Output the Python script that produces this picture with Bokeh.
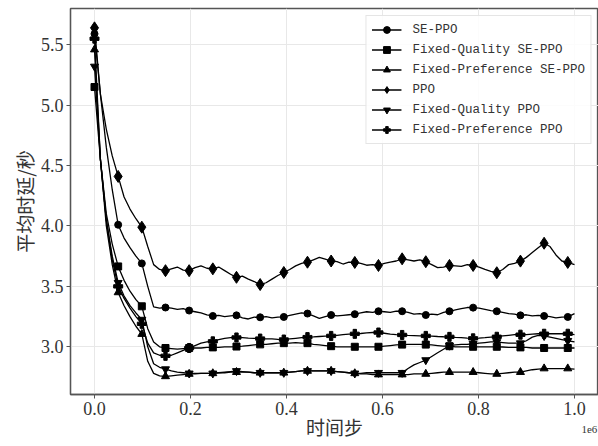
from bokeh.plotting import figure
from bokeh.models import Range1d, FixedTicker, LinearAxis
from bokeh.embed import file_html
from bokeh.resources import INLINE

# time step grid (every 12325 steps), last point at 1e6
STEP = 12325
steps = [i * STEP for i in range(81)] + [1000000]

se_ppo = [5.59, 5.09, 4.65, 4.30, 4.01, 3.90, 3.82, 3.75, 3.69, 3.50, 3.33, 3.32, 3.325,
          3.32, 3.31, 3.315, 3.30, 3.29, 3.28, 3.265, 3.255, 3.26, 3.25, 3.255, 3.26,
          3.24, 3.23, 3.245, 3.244, 3.25, 3.24, 3.245, 3.247, 3.26, 3.27, 3.28, 3.275,
          3.255, 3.235, 3.25, 3.263, 3.255, 3.26, 3.265, 3.27, 3.28, 3.29, 3.285, 3.294,
          3.29, 3.285, 3.295, 3.294, 3.285, 3.27, 3.275, 3.263, 3.27, 3.265, 3.285, 3.294,
          3.305, 3.315, 3.325, 3.324, 3.32, 3.31, 3.30, 3.294, 3.285, 3.275, 3.27, 3.26,
          3.265, 3.255, 3.26, 3.255, 3.25, 3.24, 3.245, 3.247, 3.275]

fq_se_ppo = [5.15, 4.55, 4.10, 3.85, 3.665, 3.55, 3.46, 3.39, 3.335, 3.15, 3.04, 3.00, 2.99,
             2.985, 2.98, 2.985, 2.99, 2.99, 2.99, 2.995, 2.995, 2.995, 3.0, 3.0, 3.002,
             3.005, 3.01, 3.015, 3.02, 3.02, 3.025, 3.03, 3.03, 3.03, 3.035, 3.03, 3.03,
             3.02, 3.015, 3.01, 3.005, 3.0, 3.0, 3.0, 3.0, 3.0, 3.0, 3.0, 3.0,
             3.005, 3.01, 3.015, 3.018, 3.02, 3.02, 3.02, 3.018, 3.015, 3.01, 3.005, 3.005,
             3.0, 3.0, 3.0, 3.0, 3.0, 3.0, 3.0, 3.0, 2.998, 2.995, 2.995, 2.995,
             2.995, 2.99, 2.99, 2.99, 2.99, 2.99, 2.99, 2.99, 2.99]

fp_se_ppo = [5.46, 4.55, 4.00, 3.68, 3.45, 3.34, 3.25, 3.17, 3.105, 2.88, 2.78, 2.76, 2.755,
             2.76, 2.765, 2.77, 2.775, 2.775, 2.78, 2.78, 2.78, 2.785, 2.785, 2.79, 2.79,
             2.79, 2.79, 2.785, 2.785, 2.785, 2.785, 2.785, 2.785, 2.79, 2.795, 2.80, 2.80,
             2.80, 2.80, 2.80, 2.80, 2.795, 2.79, 2.785, 2.78, 2.775, 2.775, 2.77, 2.77,
             2.77, 2.77, 2.77, 2.77, 2.77, 2.775, 2.775, 2.775, 2.78, 2.785, 2.79, 2.79,
             2.79, 2.79, 2.79, 2.79, 2.785, 2.78, 2.775, 2.775, 2.78, 2.785, 2.79, 2.79,
             2.80, 2.81, 2.815, 2.82, 2.82, 2.82, 2.82, 2.82, 2.815]

ppo = [5.64, 5.09, 4.80, 4.58, 4.41, 4.24, 4.14, 4.06, 3.99, 3.83, 3.68, 3.64, 3.63,
       3.645, 3.66, 3.635, 3.63, 3.655, 3.67, 3.65, 3.645, 3.66, 3.63, 3.60, 3.575,
       3.585, 3.56, 3.54, 3.515, 3.53, 3.56, 3.59, 3.615, 3.64, 3.67, 3.69, 3.70,
       3.72, 3.74, 3.725, 3.71, 3.705, 3.685, 3.70, 3.698, 3.69, 3.675, 3.68, 3.673,
       3.69, 3.70, 3.71, 3.728, 3.72, 3.71, 3.72, 3.704, 3.68, 3.655, 3.66, 3.673,
       3.67, 3.665, 3.68, 3.673, 3.66, 3.64, 3.625, 3.613, 3.64, 3.68, 3.69, 3.709,
       3.74, 3.78, 3.82, 3.857, 3.83, 3.76, 3.71, 3.698, 3.68]

fq_ppo = [5.32, 4.55, 4.05, 3.75, 3.53, 3.42, 3.34, 3.28, 3.225, 3.00, 2.86, 2.83, 2.815,
          2.80, 2.79, 2.785, 2.78, 2.78, 2.78, 2.78, 2.78, 2.785, 2.79, 2.795, 2.80,
          2.795, 2.79, 2.785, 2.785, 2.785, 2.785, 2.785, 2.785, 2.79, 2.795, 2.80, 2.80,
          2.80, 2.80, 2.80, 2.80, 2.795, 2.79, 2.785, 2.78, 2.78, 2.785, 2.785, 2.785,
          2.785, 2.785, 2.785, 2.785, 2.82, 2.85, 2.87, 2.89, 2.92, 2.95, 2.98, 3.01,
          3.015, 3.02, 3.02, 3.025, 3.03, 3.035, 3.04, 3.04, 3.035, 3.03, 3.03, 3.03,
          3.05, 3.08, 3.095, 3.09, 3.08, 3.07, 3.06, 3.05, 3.04]

fp_ppo = [5.55, 4.55, 4.05, 3.72, 3.50, 3.40, 3.32, 3.25, 3.19, 3.03, 2.95, 2.93, 2.925,
          2.93, 2.95, 2.97, 2.99, 3.01, 3.03, 3.04, 3.045, 3.06, 3.07, 3.075, 3.077,
          3.075, 3.072, 3.07, 3.068, 3.065, 3.065, 3.062, 3.06, 3.065, 3.07, 3.075, 3.08,
          3.082, 3.085, 3.088, 3.09, 3.095, 3.10, 3.105, 3.107, 3.11, 3.115, 3.118, 3.118,
          3.112, 3.105, 3.10, 3.098, 3.095, 3.093, 3.09, 3.09, 3.088, 3.085, 3.083, 3.082,
          3.078, 3.075, 3.072, 3.07, 3.072, 3.075, 3.08, 3.083, 3.09, 3.095, 3.10, 3.10,
          3.10, 3.105, 3.108, 3.108, 3.108, 3.108, 3.108, 3.108, 3.10]

names = ["SE-PPO", "Fixed-Quality SE-PPO", "Fixed-Preference SE-PPO",
         "PPO", "Fixed-Quality PPO", "Fixed-Preference PPO"]
values = [se_ppo, fq_se_ppo, fp_se_ppo, ppo, fq_ppo, fp_ppo]
markers = ["circle", "square", "triangle", "diamond", "inverted_triangle", "plus"]
msizes = [7, 7, 8, 12, 8, 9]

x_ticks = [0, 200000, 400000, 600000, 800000, 1000000]
x_tick_labels = ["0.0", "0.2", "0.4", "0.6", "0.8", "1.0"]
y_ticks = [3.0, 3.5, 4.0, 4.5, 5.0, 5.5]
y_tick_labels = ["3.0", "3.5", "4.0", "4.5", "5.0", "5.5"]
offset_text = "1e6"
offset_pos = 1031000

p = figure(width=598, height=446, output_backend="svg", toolbar_location=None,
           x_range=Range1d(-50000, 1050000), y_range=Range1d(2.605, 5.80),
           min_border_left=70, min_border_right=0, min_border_top=8, min_border_bottom=52)

for name, ys, mk, ms in zip(names, values, markers, msizes):
    p.line(steps, ys, line_color="black", line_width=1.3, legend_label=name)
    p.scatter(steps[0:81:4], ys[0:81:4], marker=mk, size=ms, fill_color="black",
              line_color="black", legend_label=name)

p.outline_line_color = "#555555"
p.outline_line_width = 1.3
p.background_fill_color = "white"
p.border_fill_color = "white"

for ax in (p.xaxis[0], p.yaxis[0]):
    ax.axis_line_color = "#555555"
    ax.axis_line_width = 1.3
    ax.major_tick_line_color = "#555555"
    ax.major_tick_out = 4
    ax.major_tick_in = 0
    ax.minor_tick_line_color = None
    ax.major_label_text_font = "Liberation Serif"
    ax.major_label_text_font_size = "18px"
    ax.major_label_text_color = "#333333"
    ax.major_label_standoff = 3
    ax.axis_label_text_font = "Noto Sans CJK SC"
    ax.axis_label_text_font_style = "normal"
    ax.axis_label_text_font_size = "19px"
    ax.axis_label_text_color = "#333333"
    ax.axis_label_standoff = 0

p.xaxis[0].ticker = FixedTicker(ticks=x_ticks)
p.xaxis[0].major_label_overrides = {t: l for t, l in zip(x_ticks, x_tick_labels)}
p.yaxis[0].ticker = FixedTicker(ticks=y_ticks)
p.yaxis[0].major_label_overrides = {t: l for t, l in zip(y_ticks, y_tick_labels)}
p.yaxis[0].axis_label = "平均时延/秒"

# second bottom axis: carries the offset text "1e6" and the x-axis title
ax2 = LinearAxis(ticker=FixedTicker(ticks=[offset_pos]),
                 major_label_overrides={offset_pos: offset_text},
                 axis_line_color=None, major_tick_line_color=None,
                 minor_tick_line_color=None, major_tick_out=0, major_tick_in=0,
                 major_label_standoff=8,
                 major_label_text_font="Liberation Serif",
                 major_label_text_font_size="11px", major_label_text_color="#333333",
                 axis_label="时间步", axis_label_text_font="Noto Sans CJK SC",
                 axis_label_text_font_style="normal", axis_label_text_font_size="19px",
                 axis_label_text_color="#333333", axis_label_standoff=-23)
p.add_layout(ax2, "below")

p.xgrid.grid_line_color = "#e8e8e8"
p.ygrid.grid_line_color = "#e8e8e8"

lg = p.legend[0]
lg.location = "top_right"
lg.margin = 7
lg.padding = 5
lg.spacing = 3
lg.label_height = 17
lg.glyph_height = 17
lg.glyph_width = 30
lg.label_standoff = 11
lg.label_text_font = "Liberation Mono"
lg.label_text_font_size = "12.5px"
lg.label_text_color = "#333333"
lg.border_line_color = "#cccccc"
lg.background_fill_alpha = 0.85

open("out.html", "w").write(file_html(p, INLINE))
